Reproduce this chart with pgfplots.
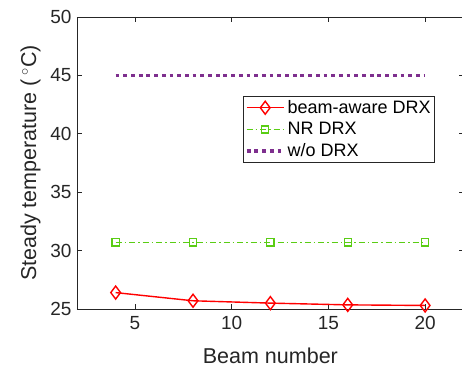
\documentclass[border=0pt]{standalone}
\usepackage{pgfplots}
\pgfplotsset{compat=1.18}
\usepackage{fontspec}
\setmainfont{Liberation Sans}
\definecolor{mgrey}{rgb}{0.15,0.15,0.15}
\definecolor{mred}{rgb}{1,0,0}
\definecolor{mgreen}{RGB}{90,205,20}
\definecolor{mpurple}{RGB}{126,47,142}
\newcommand{\fs}{\fontsize{19}{22.8}\selectfont}
\newcommand{\fl}{\fontsize{21.5}{25}\selectfont}
\newcommand{\fg}{\fontsize{18}{21.6}\selectfont}
\begin{document}
\begin{tikzpicture}
\begin{axis}[
 scale only axis, width=386.8pt, height=292pt,
 xmin=2, xmax=22, ymin=25, ymax=50,
 xtick={5,10,15,20}, ytick={25,30,35,40,45,50},
 axis line style={mgrey, line width=0.8pt},
 tick style={mgrey, line width=0.8pt},
 major tick length=5pt,
 tick align=inside,
 xtick pos=both, ytick pos=both,
 ticklabel style={font=\fs, text=mgrey},
 xticklabel style={yshift=-4pt},
 yticklabel style={xshift=-2pt},
 /pgf/number format/assume math mode=true,
 xlabel={Beam number},
 ylabel={Steady temperature (\,\textsuperscript{$\circ$}C)},
 label style={font=\fl, text=mgrey},
 xlabel style={at={(axis description cs:0.5,-0.162)}, anchor=center},
 ylabel style={at={(axis description cs:-0.12,0.5)}, anchor=center},
 legend style={at={(axis description cs:0.428,0.729)}, anchor=north west,
   draw=mgrey, line width=0.8pt, font=\fg, text=black, inner xsep=2pt, inner ysep=2pt,
   row sep=3.5pt, cells={anchor=west}},
 legend image code/.code={\draw[mark repeat=2,mark phase=2] plot coordinates {(0cm,0cm)(0.65cm,0cm)(1.3cm,0cm)};},
]
\addplot[mred, line width=1.4pt, mark=diamond, mark size=6.5pt, mark options={solid, line width=1.4pt, fill=white}]
 coordinates {(4,26.4) (8,25.7) (12,25.5) (16,25.35) (20,25.3)};
\addlegendentry{beam-aware DRX}
\addplot[mgreen, line width=1.3pt, dash pattern=on 6pt off 3pt on 1.5pt off 3pt, mark=square, mark size=3.6pt, mark options={solid, line width=1.3pt}]
 coordinates {(4,30.7) (8,30.7) (12,30.7) (16,30.7) (20,30.7)};
\addlegendentry{NR DRX}
\addplot[mpurple, line width=3.6pt, dash pattern=on 3.8pt off 3.9pt]
 coordinates {(4,45) (8,45) (12,45) (16,45) (20,45)};
\addlegendentry{w/o DRX}
\coordinate (bl) at (axis description cs:-0.199,-0.2055);
\coordinate (tr) at (axis description cs:0.9953,1.058);
\end{axis}
\pgfresetboundingbox
\useasboundingbox (bl) rectangle (tr);
\end{tikzpicture}
\end{document}
